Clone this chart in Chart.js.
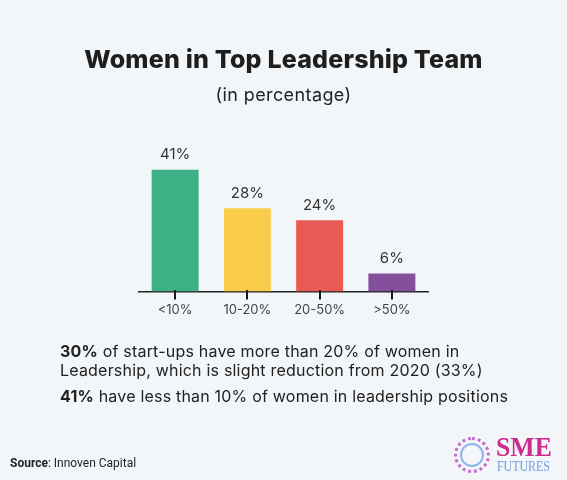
<!DOCTYPE html>
<html>
<head>
<meta charset="utf-8">
<script src="https://cdn.jsdelivr.net/npm/chart.js@4"></script>
<style>
  html, body { margin: 0; padding: 0; background: #f3f6f9; }
  #wrap { position: relative; width: 567px; height: 480px; overflow: hidden; font-family: Inter, "Open Sans", sans-serif; color: #222; }
  #chartBox { position: absolute; left: 0; top: 0; width: 567px; height: 480px; }
  .title { position: absolute; left: 0; width: 567px; text-align: center; top: 44px; font-size: 25px; font-weight: 800; color: #1e1e1e; letter-spacing: 0.2px; }
  .sub { position: absolute; left: 0; width: 567px; text-align: center; top: 84px; font-size: 18px; color: #222; letter-spacing: 0.4px; }
  .note { position: absolute; left: 60px; font-size: 16px; line-height: 19px; color: #222; letter-spacing: 0.2px; }
  .src { position: absolute; left: 10px; top: 456px; font-family: Roboto, sans-serif; font-size: 12px; color: #222; }
  .logo { position: absolute; left: 452px; top: 433px; width: 110px; height: 46px; }
  .ring { position: absolute; left: 2px; top: 4px; width: 36px; height: 36px; border-radius: 50%;
          border: 3px dotted #c86bd0; box-sizing: border-box; }
  .ring2 { position: absolute; left: 8px; top: 10px; width: 24px; height: 24px; border-radius: 50%;
          border: 2px solid #8fb6e8; box-sizing: border-box; }
  .sme { position: absolute; left: 44px; top: 1px; font-family: "Liberation Serif", serif; font-weight: bold; font-size: 28px; color: #cf2a8e; line-height: 26px; transform: scaleX(0.92); transform-origin: left; }
  .fut { position: absolute; left: 45px; top: 27px; font-family: "Liberation Serif", serif; font-size: 14px; color: #6f9fe0; line-height: 14px; transform: scaleX(0.85); transform-origin: left; }
</style>
</head>
<body>
<div id="wrap">
  <div id="chartBox"><canvas id="myChart"></canvas></div>
  <div class="title">Women in Top Leadership Team</div>
  <div class="sub">(in percentage)</div>
  <div class="note" style="top:342px;"><b>30%</b> of start-ups have more than 20% of women in<br>Leadership, which is slight reduction from 2020 (33%)</div>
  <div class="note" style="top:387px;"><b>41%</b> have less than 10% of women in leadership positions</div>
  <div class="src"><b>Source</b>: Innoven Capital</div>
  <div class="logo"><div class="ring"></div><div class="ring2"></div><div class="sme">SME</div><div class="fut">FUTURES</div></div>
</div>
<script>
const categories = ["<10%", "10-20%", "20-50%", ">50%"];
const shares = [41, 28, 24, 6];
const barColors = ["#3db185", "#f9cd4a", "#ea5a55", "#844f9c"];

// value labels above bars, plus tick marks under the category centres
const barExtras = {
    id: "barExtras",
    afterDraw(chart) {
        const ctx = chart.ctx;
        const meta = chart.getDatasetMeta(0);
        const base = Math.round(chart.chartArea.bottom);
        // drop any clip left over so the marks below the plot area show
        for (let i = 0; i < 4; i++) ctx.restore();
        ctx.save();
        ctx.fillStyle = "#1a1a1a";
        meta.data.forEach(bar => {
            ctx.fillRect(Math.round(bar.x) - 1, base - 1, 2, 9);
        });
        ctx.font = "15px Inter, sans-serif";
        ctx.fillStyle = "#333";
        ctx.textAlign = "center";
        ctx.textBaseline = "middle";
        meta.data.forEach((bar, i) => {
            ctx.fillText(shares[i] + "%", bar.x, bar.y - 15);
        });
        ctx.restore();
    }
};

document.addEventListener("DOMContentLoaded", function () {
    let ctx = document.getElementById("myChart").getContext("2d");
    new Chart(ctx, {
        type: "bar",
        data: {
            labels: categories,
            datasets: [{
                data: shares,
                backgroundColor: barColors,
                barPercentage: 0.65,
                categoryPercentage: 1
            }]
        },
        options: {
            responsive: true,
            maintainAspectRatio: false,
            animation: false,
            layout: { padding: { left: 139, right: 139, top: 143, bottom: 159 } },
            plugins: { legend: { display: false }, tooltip: { enabled: false } },
            scales: {
                x: {
                    grid: { offset: false, drawOnChartArea: false, drawTicks: true, tickLength: 8, color: "#1a1a1a", lineWidth: 2 },
                    border: { display: true, color: "#222", width: 1.5 },
                    ticks: { color: "#444", font: { family: "Inter", size: 13 }, padding: 3 }
                },
                y: {
                    display: false,
                    min: 0,
                    max: 50
                }
            }
        },
        plugins: [barExtras]
    });
});
</script>
</body>
</html>
